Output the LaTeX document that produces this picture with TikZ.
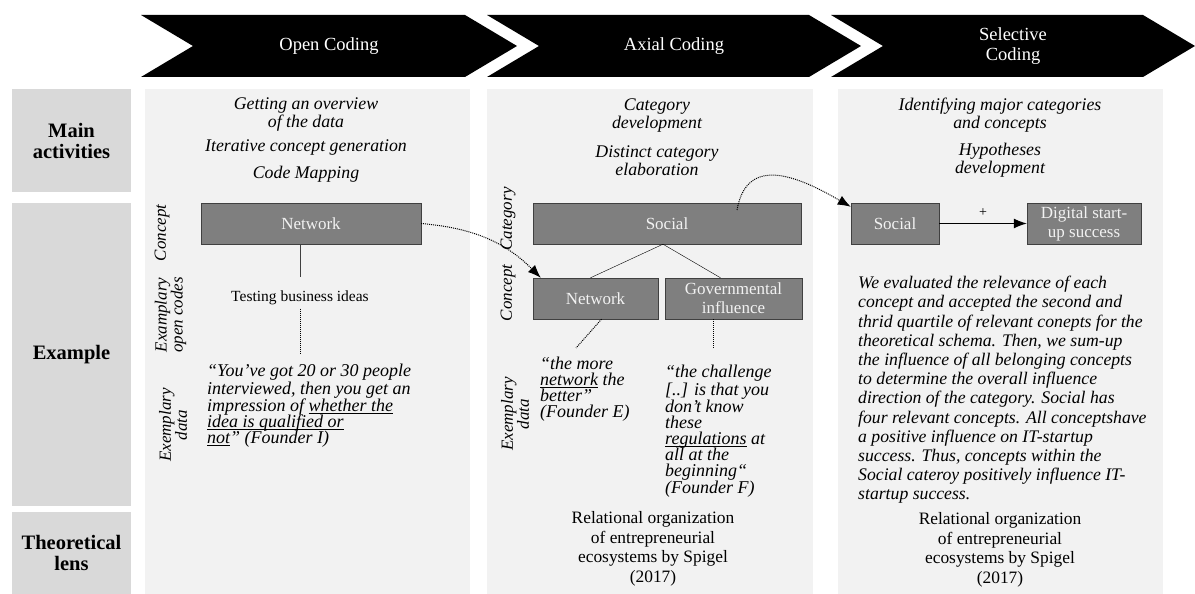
\documentclass[tikz,border=0pt]{standalone}
\usepackage{fontspec}
\setmainfont{Liberation Serif}
\usetikzlibrary{arrows.meta}
\definecolor{panel}{HTML}{F2F2F2}
\definecolor{rowgray}{HTML}{D9D9D9}
\definecolor{boxgray}{HTML}{7F7F7F}
\definecolor{boxline}{HTML}{404040}
\newcommand{\uln}[1]{\underline{\smash{#1}}}

\begin{document}
\begin{tikzpicture}[x=1pt, y=1pt,
  header/.style={text=white, align=center, font=\fontsize{18.5}{20}\selectfont},
  rowlabel/.style={fill=rowgray, minimum width=119pt, align=center, font=\bfseries\fontsize{20.5}{21}\selectfont},
  activity/.style={align=center, font=\itshape\fontsize{17.8}{18}\selectfont},
  concept/.style={fill=boxgray, draw=boxline, text=panel, align=center, minimum height=41pt, inner sep=0pt, font=\fontsize{17}{19}\selectfont},
  vlabel/.style={rotate=90, align=center, inner sep=0pt, font=\itshape\fontsize{17}{16}\selectfont},
  quote/.style={align=left, anchor=north west, inner sep=0pt, font=\itshape\fontsize{18}{16}\selectfont},
  lens/.style={align=center, font=\fontsize{17.4}{19.5}\selectfont},
  dotline/.style={densely dotted, line width=1pt},
  link/.style={densely dotted, line width=1pt, -{Latex[length=13pt,width=10pt]}},
]
  \useasboundingbox (0,0) rectangle (1195,594);
  \fill[panel] (145,0) rectangle (470,505);
  \fill[panel] (487,0) rectangle (813,505);
  \fill[panel] (838,0) rectangle (1163,505);

  \foreach \x/\w/\lab [count=\i] in {141/324/Open Coding, 487/322/Axial Coding, 831/312/{Selective\\Coding}} {
    \fill (\x,579) -- ++(\w,0) -- ++(52,-31) -- ++(-52,-31) -- ++(-\w,0) -- ++(52,31) -- cycle;
    \node[header] (phase\i) at (\x+26+\w/2, 548) {\lab};
  }

  \node[rowlabel, minimum height=103pt] (mainact) at (71.5,453.5) {Main\\activities};
  \node[rowlabel, minimum height=303pt] (example) at (71.5,239.5) {Example};
  \node[rowlabel, minimum height=82pt] (lens) at (71.5,41) {Theoretical\\lens};

  \node[activity] (act1a) at (306,479) {Getting an overview\\of the data};
  \node[activity] (act1b) at (306,446) {Iterative concept generation};
  \node[activity] (act1c) at (306,420) {Code Mapping};
  \node[concept, minimum width=220pt] (net1) at (311,370.5) {Network};
  \node[font=\fontsize{15.5}{16}\selectfont] (tbi) at (300,296) {Testing business ideas};
  \node[quote] (q1) at (207,230) {“You've got 20 or 30 people\\interviewed, then you get an\\impression of \uln{whether the}\\\uln{idea is qualified or}\\\uln{not}” (Founder I)};
  \draw[boxline, line width=1pt] (net1.south -| tbi.north) -- ([yshift=10pt]tbi.north);
  \draw[dotline, shorten >=11pt] (tbi.south) -- (tbi.south |- q1.north);
  \node[vlabel] (c1concept) at (162,361) {Concept};
  \node[vlabel] (c1codes) at (170.5,279) {Examplary\\open codes};
  \node[vlabel] (c1data) at (173,169) {Exemplary\\data};

  \node[activity] (act2a) at (657,478) {Category\\development};
  \node[activity] (act2b) at (657,433.5) {Distinct category\\elaboration};
  \node[concept, minimum width=268pt] (social2) at (667,370.5) {Social};
  \node[concept, minimum width=125pt] (net2) at (595.5,295.5) {Network};
  \node[concept, minimum width=137pt] (gov) at (733.5,295.5) {Governmental\\influence};
  \draw ([xshift=-4pt]social2.south) -- ([xshift=-5pt]net2.north);
  \draw ([xshift=-4pt]social2.south) -- ([xshift=-13pt]gov.north);
  \node[quote] (q2) at (540,237) {“the more\\\uln{network} the\\better”\\(Founder E)};
  \node[quote] (q3) at (665,229) {“the challenge\\{[..]} is that you\\don't know\\these\\\uln{regulations} at\\all at the\\beginning“\\(Founder F)};
  \draw[dotline] ([xshift=6pt]net2.south) -- ([xshift=36pt,yshift=9pt]q2.north west);
  \draw[dotline] ([xshift=-20.5pt]gov.south) -- ([xshift=48pt,yshift=17pt]q3.north west);
  \node[vlabel] (c2cat) at (508,375) {Category};
  \node[vlabel] (c2concept) at (508,301) {Concept};
  \node[vlabel] (c2data) at (515,180) {Exemplary\\data};
  \node[lens] (lens2) at (653,45) {Relational organization\\of entrepreneurial\\ecosystems by Spigel\\(2017)};

  \node[activity] (act3a) at (1000,479) {Identifying major categories\\and concepts};
  \node[activity] (act3b) at (1000,433.5) {Hypotheses\\development};
  \node[concept, minimum width=88pt] (social3) at (895,370.5) {Social};
  \node[concept, minimum width=114pt] (digital) at (1084,370.5) {Digital start-\\up success};
  \draw[line width=1pt, -{Latex[length=13pt,width=10pt]}] (social3) -- node[above=3pt, font=\fontsize{14}{14}\selectfont] (plus) {+} (digital);
  \node[quote, font=\itshape\fontsize{17.7}{19.2}\selectfont] (para) at (858,318) {We evaluated the relevance of each\\concept and accepted the second and\\thrid quartile of relevant conepts for the\\theoretical schema. Then, we sum-up\\the influence of all belonging concepts\\to determine the overall influence\\direction of the category. Social has\\four relevant concepts. All conceptshave\\a positive influence on IT-startup\\success. Thus, concepts within the\\Social cateroy positively influence IT-\\startup success.};
  \node[lens] (lens3) at (1000,44) {Relational organization\\of entrepreneurial\\ecosystems by Spigel\\(2017)};

  \draw[link] (net1.east) to[out=-5, in=135] ([xshift=8pt]net2.north west);
  \draw[link] ([xshift=70pt,yshift=13.5pt]social2.center) to[out=80, in=150, looseness=1.3] ([yshift=-4pt]social3.north west);
\end{tikzpicture}
\end{document}
